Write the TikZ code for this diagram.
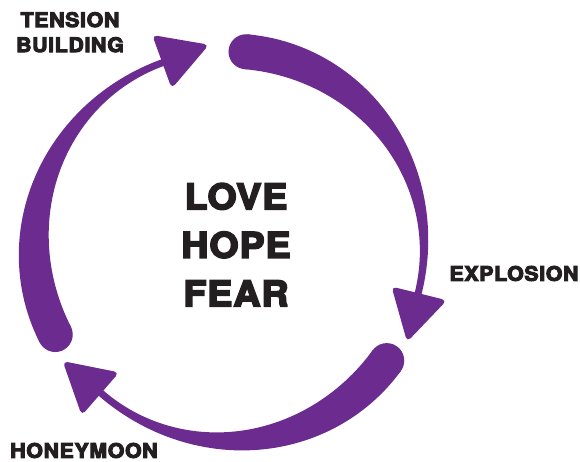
\documentclass[tikz,border=0pt]{standalone}
\usepackage{fontspec}
\usetikzlibrary{calc}

\newfontfamily\heavyfont{TeX Gyre Heros}[UprightFont={* Bold},FakeBold=5,FakeStretch=1.07,LetterSpace=3]
\definecolor{cyclepurple}{RGB}{108,44,143}
\definecolor{inkblack}{RGB}{35,31,32}

\newcommand{\ringrad}{195}
% tapered arc from angle #1 round to angle #2 (clockwise), round tail, triangle head
\newcommand{\cyclearrow}[2]{%
  \fill[band] plot[domain=0:1.02,samples=60] ({#1+((#2)-(#1))*\x}:{\ringrad+3.5+7*(1+cos(180*\x))})
    -- plot[domain=1.02:0,samples=60] ({#1+((#2)-(#1))*\x}:{\ringrad-3.5-7*(1+cos(180*\x))}) -- cycle;
  \fill[band] (#1:\ringrad) circle[radius=17.5];
  \fill[band,rounded corners=5pt] (#2:{\ringrad+1-28.5}) -- ($(#2:{\ringrad+1})+({#2-90}:50)$)
    -- (#2:{\ringrad+1+28.5}) -- cycle;
}

\begin{document}
\begin{tikzpicture}[x=1pt,y=1pt,
    band/.style={fill=cyclepurple},
    label/.style={text=inkblack,inner sep=0pt,align=center,
      font=\heavyfont\fontsize{20}{25}\selectfont}]
  \useasboundingbox (-229,-216) rectangle (351,246);

  % the three arrows of the cycle
  \cyclearrow{85}{-14}
  \cyclearrow{-36}{-131}
  \cyclearrow{207}{110}

  % words in the middle
  \node[label,anchor=north,font=\heavyfont\fontsize{35}{48.5}\selectfont]
    (centre) at (7,63) {LOVE\\HOPE\\FEAR};

  % stage labels
  \node[label,anchor=north] (tension) at (-159,234) {TENSION\\BUILDING};
  \node[label] (explosion) at (285,-27.5) {EXPLOSION};
  \node[label] (honeymoon) at (-145,-204.5) {HONEYMOON};
\end{tikzpicture}
\end{document}
